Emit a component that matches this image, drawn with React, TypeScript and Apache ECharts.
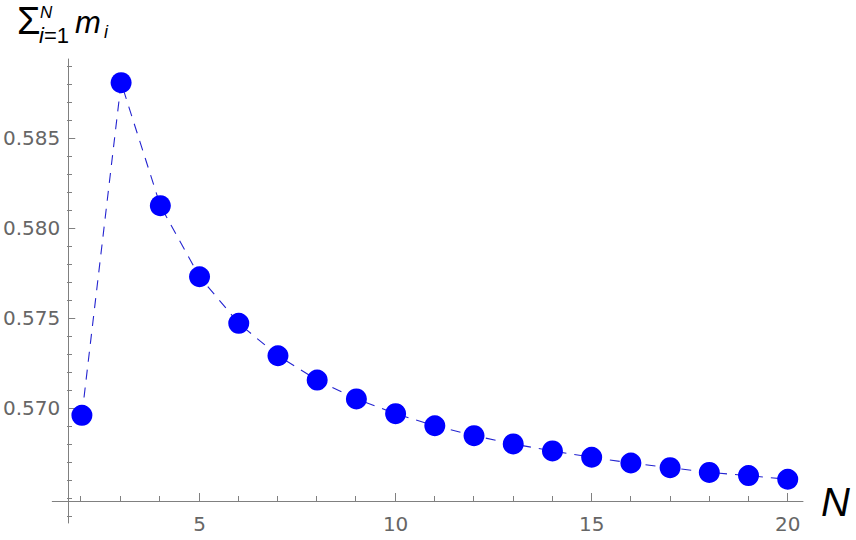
import React, { useEffect, useRef } from "react";
import * as echarts from "echarts";

// ---- data ----
const nValues: number[] = [2, 3, 4, 5, 6, 7, 8, 9, 10, 11, 12, 13, 14, 15, 16, 17, 18, 19, 20];
const sumM: number[] = [
  0.56961, 0.58809, 0.58126, 0.57731, 0.57472, 0.57292, 0.57157, 0.57052, 0.5697, 0.56903,
  0.56848, 0.56802, 0.56763, 0.56728, 0.56696, 0.5667, 0.56644, 0.56626, 0.56606,
];

// ---- tick labels / tick positions ----
const xMajorTicks: number[] = [5, 10, 15, 20];
const xMinorTicks: number[] = [2, 3, 4, 6, 7, 8, 9, 11, 12, 13, 14, 16, 17, 18, 19];
const yMajorTicks: number[] = [0.57, 0.575, 0.58, 0.585];
const yMinorTicks: number[] = [
  0.564, 0.565, 0.566, 0.567, 0.568, 0.569, 0.571, 0.572, 0.573, 0.574, 0.576, 0.577, 0.578,
  0.579, 0.581, 0.582, 0.583, 0.584, 0.586, 0.587, 0.588, 0.589,
];

const X_MIN = 1.2439;
const X_MAX = 20.3895;
const Y_MIN = 0.563628;
const Y_MAX = 0.589406;

const AXIS_COLOR = "#808080";
const LABEL_COLOR = "#666666";
const LABEL_FONT = "DejaVu Sans";
const MATH_FONT = "Liberation Sans";

export default function App() {
  const ref = useRef<HTMLDivElement>(null);

  useEffect(() => {
    if (!ref.current) return;
    const chart = echarts.init(ref.current, undefined, { renderer: "svg" });

    const gridBox = { left: 51, right: 53, top: 59, bottom: 17 };

    const xBase = (gridIndex: number) => ({
      type: "value" as const,
      gridIndex,
      min: X_MIN,
      max: X_MAX,
      position: "bottom" as const,
      offset: -22,
      splitLine: { show: false },
    });
    const yBase = (gridIndex: number) => ({
      type: "value" as const,
      gridIndex,
      min: Y_MIN,
      max: Y_MAX,
      position: "left" as const,
      offset: -16,
      splitLine: { show: false },
    });

    const mathText = (
      text: string,
      x: number,
      y: number,
      size: number,
      italic: boolean
    ) => ({
      type: "text",
      x,
      y,
      style: {
        text,
        fontFamily: MATH_FONT,
        fontSize: size,
        fontStyle: italic ? "italic" : "normal",
        fill: "#000",
        verticalAlign: "middle",
        align: "left",
      },
    });

    chart.setOption({
      animation: false,
      backgroundColor: "#ffffff",
      grid: [
        { ...gridBox, containLabel: false },
        { ...gridBox, containLabel: false },
      ],
      xAxis: [
        {
          ...xBase(0),
          axisLine: { show: true, onZero: false, lineStyle: { color: AXIS_COLOR, width: 1 } },
          axisTick: {
            show: true,
            inside: true,
            length: 8,
            customValues: xMajorTicks,
            lineStyle: { color: AXIS_COLOR, width: 1 },
          },
          axisLabel: {
            show: true,
            customValues: xMajorTicks,
            margin: 13,
            color: LABEL_COLOR,
            fontFamily: LABEL_FONT,
            fontSize: 20,
            formatter: (v: number) => String(Math.round(v)),
          },
        },
        {
          ...xBase(1),
          axisLine: { show: false, onZero: false },
          axisTick: {
            show: true,
            inside: true,
            length: 5,
            customValues: xMinorTicks,
            lineStyle: { color: AXIS_COLOR, width: 1 },
          },
          axisLabel: { show: false, customValues: xMinorTicks },
        },
      ],
      yAxis: [
        {
          ...yBase(0),
          axisLine: { show: true, onZero: false, lineStyle: { color: AXIS_COLOR, width: 1 } },
          axisTick: {
            show: true,
            inside: true,
            length: 7,
            customValues: yMajorTicks,
            lineStyle: { color: AXIS_COLOR, width: 1 },
          },
          axisLabel: {
            show: true,
            customValues: yMajorTicks,
            margin: 8,
            color: LABEL_COLOR,
            fontFamily: LABEL_FONT,
            fontSize: 20,
            formatter: (v: number) => v.toFixed(3),
          },
        },
        {
          ...yBase(1),
          axisLine: { show: false, onZero: false },
          axisTick: {
            show: true,
            inside: true,
            length: 5,
            customValues: yMinorTicks,
            lineStyle: { color: AXIS_COLOR, width: 1 },
          },
          axisLabel: { show: false, customValues: yMinorTicks },
        },
      ],
      series: [
        {
          type: "line",
          xAxisIndex: 0,
          yAxisIndex: 0,
          data: nValues.map((n, i) => [n, sumM[i]]),
          symbol: "circle",
          symbolSize: 21,
          itemStyle: { color: "#0000ff" },
          lineStyle: { color: "#2424d0", width: 1.1, type: [10, 8] },
          z: 3,
        },
      ],
      graphic: [
        mathText("Σ", 17, 20.5, 38, false),
        mathText("N", 40, 12.5, 17, true),
        {
          type: "text",
          x: 39,
          y: 35.8,
          style: {
            text: "{it|i}{up|=1}",
            verticalAlign: "middle",
            align: "left",
            rich: {
              it: { fontFamily: MATH_FONT, fontSize: 22, fontStyle: "italic", fill: "#000" },
              up: { fontFamily: MATH_FONT, fontSize: 22, fill: "#000" },
            },
          },
        },
        mathText("m", 75, 22.5, 31, true),
        mathText("i", 104, 32, 18, true),
        mathText("N", 821, 501.5, 40, true),
      ],
    });

    return () => {
      chart.dispose();
    };
  }, []);

  return (
    <div
      ref={ref}
      style={{ position: "fixed", left: 0, top: 0, width: 856, height: 540, background: "#fff" }}
    />
  );
}
